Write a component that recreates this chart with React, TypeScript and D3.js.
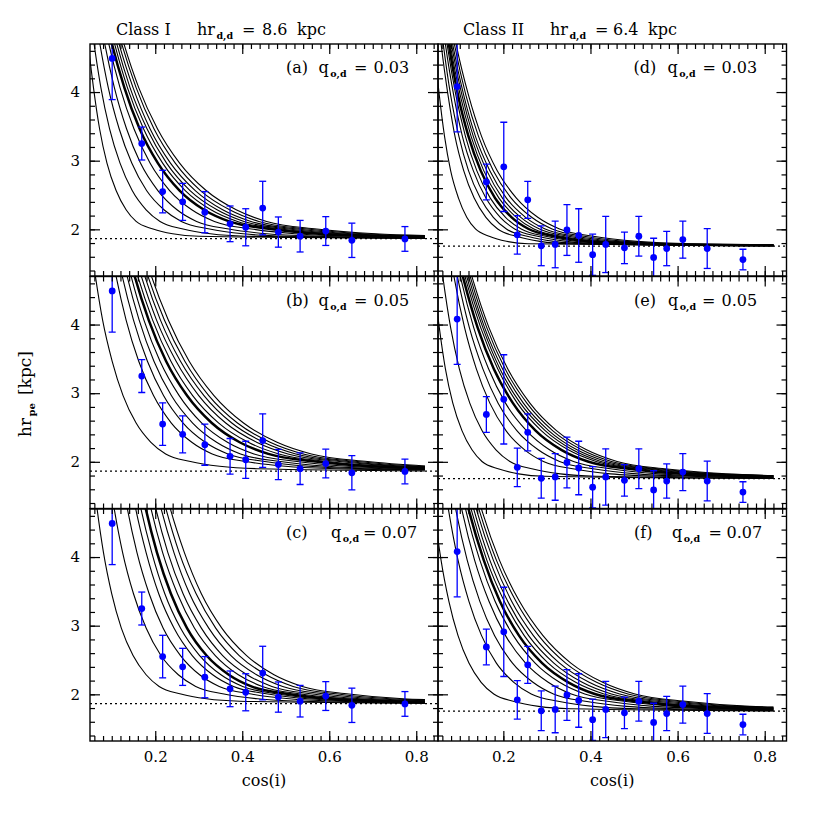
import * as d3 from 'd3';
import { useEffect, useRef } from 'react';

// ---- observed points (blue) ----
const cos1 = [0.101, 0.169, 0.217, 0.263, 0.314, 0.372, 0.408, 0.447, 0.483, 0.533, 0.592, 0.652, 0.774];
const hr1 = [4.49, 3.25, 2.55, 2.4, 2.25, 2.08, 2.03, 2.31, 1.96, 1.9, 1.975, 1.84, 1.86];
const err1 = [0.6, 0.24, 0.31, 0.27, 0.3, 0.26, 0.27, 0.39, 0.22, 0.23, 0.21, 0.25, 0.18];

const cos2 = [0.094, 0.161, 0.201, 0.232, 0.256, 0.287, 0.319, 0.346, 0.373, 0.405, 0.435, 0.478, 0.511, 0.545, 0.575, 0.612, 0.668, 0.75];
const hr2 = [4.08, 2.69, 2.91, 1.92, 2.43, 1.76, 1.78, 1.99, 1.91, 1.63, 1.78, 1.73, 1.9, 1.59, 1.72, 1.85, 1.72, 1.56];
const err2 = [0.66, 0.26, 0.65, 0.28, 0.27, 0.29, 0.34, 0.37, 0.39, 0.3, 0.41, 0.23, 0.29, 0.28, 0.25, 0.27, 0.29, 0.15];

// dotted line: intrinsic scale length
const hrDisk1 = 1.865;
const hrDisk2 = 1.755;

// model curves: hr levels, and for each curve the cos(i) where it crosses each level
const levels1 = [5.465, 4.765, 4.065, 3.465, 2.965, 2.565, 2.285, 2.115, 2.005, 1.935, 1.9];
const levels2 = [5.355, 4.655, 3.955, 3.355, 2.855, 2.455, 2.175, 2.005, 1.895, 1.825, 1.79];

const curvesA = [
  [0.035, 0.045, 0.058, 0.072, 0.089, 0.11, 0.133, 0.156, 0.195, 0.24, 0.3],
  [0.044, 0.058, 0.075, 0.095, 0.119, 0.147, 0.179, 0.211, 0.264, 0.327, 0.408],
  [0.054, 0.071, 0.092, 0.117, 0.146, 0.18, 0.22, 0.26, 0.325, 0.402, 0.502],
  [0.063, 0.082, 0.106, 0.134, 0.166, 0.206, 0.25, 0.295, 0.369, 0.456, 0.569],
  [0.069, 0.091, 0.119, 0.151, 0.188, 0.233, 0.284, 0.336, 0.421, 0.521, 0.651],
  [0.074, 0.098, 0.129, 0.164, 0.206, 0.256, 0.312, 0.37, 0.465, 0.576, 0.72],
  [0.078, 0.104, 0.136, 0.173, 0.217, 0.269, 0.328, 0.389, 0.488, 0.604, 0.755],
  [0.083, 0.109, 0.142, 0.181, 0.226, 0.28, 0.342, 0.404, 0.507, 0.627, 0.784],
  [0.087, 0.114, 0.149, 0.188, 0.235, 0.292, 0.355, 0.42, 0.527, 0.652, 0.814],
  [0.091, 0.12, 0.156, 0.197, 0.246, 0.304, 0.371, 0.438, 0.549, 0.678],
  [0.095, 0.125, 0.162, 0.205, 0.256, 0.317, 0.386, 0.456, 0.571, 0.706],
];
const endsA = [1.867, 1.87, 1.873, 1.877, 1.883, 1.89, 1.893, 1.897, 1.9, 1.905, 1.91];

const curvesB = [
  [0.046, 0.061, 0.079, 0.101, 0.126, 0.156, 0.19, 0.224, 0.281, 0.348, 0.434],
  [0.088, 0.108, 0.133, 0.162, 0.196, 0.237, 0.284, 0.331, 0.408, 0.499, 0.617],
  [0.1, 0.122, 0.15, 0.182, 0.219, 0.264, 0.315, 0.367, 0.452, 0.552, 0.682],
  [0.109, 0.133, 0.163, 0.197, 0.237, 0.286, 0.341, 0.396, 0.488, 0.595, 0.735],
  [0.116, 0.142, 0.174, 0.211, 0.255, 0.307, 0.366, 0.427, 0.526, 0.642, 0.793],
  [0.122, 0.15, 0.185, 0.225, 0.273, 0.33, 0.394, 0.46, 0.568, 0.694],
  [0.128, 0.157, 0.194, 0.236, 0.286, 0.346, 0.414, 0.484, 0.597, 0.73],
  [0.134, 0.165, 0.203, 0.248, 0.3, 0.362, 0.433, 0.505, 0.623, 0.762],
  [0.142, 0.173, 0.212, 0.258, 0.312, 0.376, 0.449, 0.523, 0.644, 0.787],
  [0.148, 0.18, 0.221, 0.268, 0.323, 0.389, 0.464, 0.54, 0.665, 0.812],
  [0.155, 0.188, 0.23, 0.278, 0.335, 0.403, 0.48, 0.559, 0.688],
];
const endsB = [1.867, 1.88, 1.885, 1.89, 1.898, 1.907, 1.915, 1.923, 1.93, 1.933, 1.94];

const curvesC = [
  [0.052, 0.065, 0.081, 0.1, 0.122, 0.149, 0.179, 0.209, 0.259, 0.318, 0.394],
  [0.087, 0.104, 0.125, 0.15, 0.179, 0.213, 0.253, 0.293, 0.358, 0.435, 0.535],
  [0.115, 0.134, 0.158, 0.186, 0.218, 0.258, 0.302, 0.347, 0.421, 0.508, 0.621],
  [0.133, 0.153, 0.179, 0.208, 0.243, 0.285, 0.332, 0.38, 0.459, 0.551, 0.672],
  [0.144, 0.165, 0.192, 0.222, 0.258, 0.302, 0.351, 0.401, 0.482, 0.579, 0.704],
  [0.154, 0.176, 0.204, 0.236, 0.273, 0.318, 0.369, 0.421, 0.506, 0.606, 0.736],
  [0.165, 0.188, 0.217, 0.251, 0.29, 0.338, 0.391, 0.446, 0.535, 0.641, 0.778],
  [0.175, 0.199, 0.229, 0.264, 0.306, 0.355, 0.411, 0.468, 0.562, 0.672, 0.814],
  [0.186, 0.211, 0.243, 0.279, 0.323, 0.374, 0.433, 0.493, 0.59, 0.705],
  [0.195, 0.222, 0.255, 0.294, 0.339, 0.393, 0.455, 0.517, 0.62, 0.74],
  [0.205, 0.232, 0.267, 0.306, 0.353, 0.41, 0.473, 0.538, 0.645, 0.77],
];
const endsC = [1.867, 1.875, 1.88, 1.885, 1.887, 1.892, 1.895, 1.9, 1.907, 1.915, 1.923];

const curvesD = [
  [0.034, 0.042, 0.053, 0.065, 0.079, 0.097, 0.116, 0.136, 0.169, 0.207, 0.257],
  [0.046, 0.058, 0.073, 0.089, 0.109, 0.133, 0.16, 0.187, 0.232, 0.284, 0.353],
  [0.05, 0.063, 0.079, 0.098, 0.12, 0.147, 0.177, 0.207, 0.257, 0.316, 0.392],
  [0.054, 0.068, 0.086, 0.106, 0.131, 0.16, 0.193, 0.226, 0.281, 0.345, 0.429],
  [0.057, 0.072, 0.091, 0.113, 0.139, 0.17, 0.205, 0.241, 0.3, 0.369, 0.458],
  [0.06, 0.076, 0.096, 0.12, 0.148, 0.181, 0.219, 0.258, 0.32, 0.395, 0.491],
  [0.062, 0.079, 0.101, 0.126, 0.155, 0.19, 0.23, 0.27, 0.337, 0.415, 0.517],
  [0.064, 0.082, 0.105, 0.131, 0.162, 0.198, 0.24, 0.283, 0.353, 0.435, 0.541],
  [0.066, 0.085, 0.109, 0.136, 0.169, 0.207, 0.251, 0.296, 0.37, 0.456, 0.568],
  [0.069, 0.089, 0.114, 0.143, 0.177, 0.218, 0.265, 0.312, 0.389, 0.48, 0.598],
  [0.072, 0.093, 0.12, 0.15, 0.186, 0.23, 0.279, 0.329, 0.41, 0.507, 0.632],
];
const endsD = [1.757, 1.76, 1.762, 1.763, 1.765, 1.767, 1.768, 1.77, 1.772, 1.775, 1.778];

const curvesE = [
  [0.03, 0.04, 0.053, 0.067, 0.084, 0.105, 0.128, 0.151, 0.19, 0.235, 0.295],
  [0.048, 0.062, 0.079, 0.099, 0.123, 0.151, 0.183, 0.215, 0.268, 0.331, 0.412],
  [0.07, 0.088, 0.111, 0.138, 0.169, 0.206, 0.249, 0.292, 0.363, 0.446, 0.555],
  [0.075, 0.096, 0.122, 0.153, 0.188, 0.231, 0.28, 0.329, 0.41, 0.506, 0.629],
  [0.08, 0.103, 0.132, 0.166, 0.205, 0.253, 0.306, 0.361, 0.45, 0.556, 0.693],
  [0.083, 0.109, 0.141, 0.178, 0.222, 0.274, 0.333, 0.394, 0.493, 0.609, 0.76],
  [0.087, 0.114, 0.148, 0.187, 0.232, 0.287, 0.349, 0.413, 0.516, 0.638, 0.797],
  [0.091, 0.118, 0.153, 0.192, 0.239, 0.296, 0.359, 0.424, 0.531, 0.656, 0.818],
  [0.094, 0.122, 0.157, 0.198, 0.246, 0.304, 0.369, 0.436, 0.545, 0.673],
  [0.097, 0.126, 0.162, 0.204, 0.254, 0.313, 0.38, 0.448, 0.56, 0.692],
  [0.1, 0.13, 0.167, 0.21, 0.261, 0.322, 0.391, 0.461, 0.576, 0.711],
];
const endsE = [1.757, 1.76, 1.767, 1.772, 1.777, 1.783, 1.788, 1.79, 1.793, 1.797, 1.8];

const curvesF = [
  [0.03, 0.042, 0.057, 0.075, 0.096, 0.121, 0.149, 0.178, 0.225, 0.281, 0.353],
  [0.058, 0.075, 0.096, 0.121, 0.15, 0.184, 0.224, 0.264, 0.329, 0.406, 0.506],
  [0.072, 0.092, 0.117, 0.146, 0.18, 0.221, 0.268, 0.315, 0.392, 0.483, 0.601],
  [0.084, 0.106, 0.134, 0.167, 0.205, 0.251, 0.303, 0.356, 0.443, 0.545, 0.677],
  [0.091, 0.115, 0.146, 0.181, 0.223, 0.273, 0.329, 0.387, 0.482, 0.593, 0.737],
  [0.096, 0.122, 0.155, 0.192, 0.236, 0.289, 0.349, 0.41, 0.51, 0.628, 0.781],
  [0.101, 0.128, 0.162, 0.202, 0.248, 0.303, 0.366, 0.431, 0.535, 0.659, 0.819],
  [0.106, 0.134, 0.169, 0.21, 0.258, 0.316, 0.381, 0.448, 0.557, 0.685],
  [0.111, 0.14, 0.177, 0.219, 0.269, 0.329, 0.397, 0.467, 0.58, 0.713],
  [0.115, 0.146, 0.184, 0.229, 0.281, 0.343, 0.414, 0.486, 0.604, 0.743],
  [0.121, 0.152, 0.191, 0.237, 0.291, 0.355, 0.428, 0.502, 0.624, 0.766],
];
const endsF = [1.757, 1.762, 1.767, 1.772, 1.778, 1.785, 1.79, 1.795, 1.8, 1.81, 1.815];

const xMajor = [0.2, 0.4, 0.6, 0.8];
const yMajor = [2, 3, 4];
const THICK = 5;
const CURVE_END = 0.82;

const FONT = '"DejaVu Serif", serif';
const BLUE = '#0000ff';

const colX = [[90, 438], [438, 786.5]];
const rowTop = [44, 276.5, 509];
const PH = 232;

const panels = [
  { col: 0, row: 0, tag: '(a)', q: '0.03', curves: curvesA, ends: endsA, off: [196, 228.5, 264, 283.5] },
  { col: 0, row: 1, tag: '(b)', q: '0.05', curves: curvesB, ends: endsB, off: [196, 228.5, 264, 283.5] },
  { col: 0, row: 2, tag: '(c)', q: '0.07', curves: curvesC, ends: endsC, off: [196, 241, 273, 291.5] },
  { col: 1, row: 0, tag: '(d)', q: '0.03', curves: curvesD, ends: endsD, off: [195.5, 229.5, 264.5, 283.5] },
  { col: 1, row: 1, tag: '(e)', q: '0.05', curves: curvesE, ends: endsE, off: [196, 230, 264, 283.5] },
  { col: 1, row: 2, tag: '(f)', q: '0.07', curves: curvesF, ends: endsF, off: [196, 234, 270.5, 288.5] },
];

export default function App() {
  const ref = useRef<SVGSVGElement>(null);

  useEffect(() => {
    const svg = d3.select(ref.current);
    svg.selectAll('*').remove();
    const defs = svg.append('defs');

    const txt = (x: number, y: number, s: string, size = 16) =>
      svg.append('text').attr('x', x).attr('y', y).attr('font-family', FONT)
        .attr('font-size', size).attr('fill', '#000').text(s);

    const sub = (sel: any, s: string) =>
      sel.append('tspan').attr('dx', 1.5).attr('dy', 4).attr('font-size', 9.5)
        .attr('font-weight', 'bold').text(s);

    panels.forEach((p, i) => {
      const [x0, x1] = colX[p.col];
      const top = rowTop[p.row];
      const bottom = top + PH;
      const x = d3.scaleLinear().domain([0.05, 0.85]).range([x0, x1]);
      const y = d3.scaleLinear().domain([1.32, 4.7]).range([bottom, top]);
      const levels = p.col === 0 ? levels1 : levels2;
      const asym = p.col === 0 ? hrDisk1 : hrDisk2;
      const cs = p.col === 0 ? cos1 : cos2;
      const hs = p.col === 0 ? hr1 : hr2;
      const es = p.col === 0 ? err1 : err2;

      defs.append('clipPath').attr('id', `clip${i}`).append('rect')
        .attr('x', x0).attr('y', top).attr('width', x1 - x0).attr('height', PH);

      const g = svg.append('g');
      const plot = g.append('g').attr('clip-path', `url(#clip${i})`);

      plot.append('line')
        .attr('x1', x0).attr('x2', x1).attr('y1', y(asym)).attr('y2', y(asym))
        .attr('stroke', '#000').attr('stroke-width', 1.2).attr('stroke-dasharray', '2,3');

      const line = d3.line<number[]>().x(d => x(d[0])).y(d => y(d[1])).curve(d3.curveMonotoneX);
      p.curves.forEach((xs, j) => {
        const pts = xs.map((c, k) => [c, levels[k]]);
        pts.push([CURVE_END, p.ends[j]]);
        plot.append('path').attr('d', line(pts)).attr('fill', 'none')
          .attr('stroke', '#000').attr('stroke-width', j === THICK ? 2.5 : 1.1);
      });

      cs.forEach((c, k) => {
        const cx = x(c);
        const yl = y(hs[k] - es[k]);
        const yh = y(hs[k] + es[k]);
        plot.append('line').attr('x1', cx).attr('x2', cx).attr('y1', yl).attr('y2', yh)
          .attr('stroke', BLUE).attr('stroke-width', 1.3);
        [yl, yh].forEach(yy => plot.append('line').attr('x1', cx - 3.5).attr('x2', cx + 3.5)
          .attr('y1', yy).attr('y2', yy).attr('stroke', BLUE).attr('stroke-width', 1.3));
        plot.append('circle').attr('cx', cx).attr('cy', y(hs[k])).attr('r', 3.4).attr('fill', BLUE);
      });

      // inward ticks on all four sides
      const xMinor = d3.range(3, 43).map(n => n * 0.02);
      const yMinor = d3.range(7, 24).map(n => n * 0.2);
      const ax = (axis: any, tr: string) => {
        const a = g.append('g').attr('transform', tr).call(axis);
        a.select('.domain').remove();
        a.selectAll('line').attr('stroke-width', 1.2);
        return a;
      };
      ax(d3.axisBottom(x).tickValues(xMinor).tickSize(-5).tickFormat(() => ''), `translate(0,${bottom})`);
      ax(d3.axisTop(x).tickValues(xMinor).tickSize(-5).tickFormat(() => ''), `translate(0,${top})`);
      ax(d3.axisTop(x).tickValues(xMajor).tickSize(-10).tickFormat(() => ''), `translate(0,${top})`);
      const xb = ax(d3.axisBottom(x).tickValues(xMajor).tickSize(-10).tickPadding(10)
        .tickFormat(p.row === 2 ? d3.format('.1f') : () => ''), `translate(0,${bottom})`);
      xb.selectAll('text').attr('font-family', FONT).attr('font-size', 15).attr('fill', '#000');

      ax(d3.axisRight(y).tickValues(yMinor).tickSize(-5).tickFormat(() => ''), `translate(${x1},0)`);
      ax(d3.axisRight(y).tickValues(yMajor).tickSize(-10).tickFormat(() => ''), `translate(${x1},0)`);
      ax(d3.axisLeft(y).tickValues(yMinor).tickSize(-5).tickFormat(() => ''), `translate(${x0},0)`);
      const yl = ax(d3.axisLeft(y).tickValues(yMajor).tickSize(-10).tickPadding(10)
        .tickFormat(p.col === 0 ? d3.format('d') : () => ''), `translate(${x0},0)`);
      yl.selectAll('text').attr('font-family', FONT).attr('font-size', 15).attr('fill', '#000');

      g.append('rect').attr('x', x0).attr('y', top).attr('width', x1 - x0).attr('height', PH)
        .attr('fill', 'none').attr('stroke', '#000').attr('stroke-width', 1.4);

      // panel label
      const ly = top + 29;
      txt(x0 + p.off[0], ly, p.tag);
      const qt = txt(x0 + p.off[1], ly, 'q');
      sub(qt, 'o,d');
      txt(x0 + p.off[2], ly, '=');
      txt(x0 + p.off[3], ly, p.q);

      if (p.row === 2) {
        txt((x0 + x1) / 2, 786, 'cos(i)').attr('text-anchor', 'middle');
      }
    });

    // column titles
    txt(116, 35, 'Class I');
    sub(txt(197, 35, 'hr'), 'd,d');
    txt(242, 35, '=');
    txt(262, 35, '8.6');
    txt(297, 35, 'kpc');

    txt(463, 35, 'Class II');
    sub(txt(550, 35, 'hr'), 'd,d');
    txt(595, 35, '=');
    txt(613, 35, '6.4');
    txt(648, 35, 'kpc');

    // y axis title
    const yt = svg.append('text').attr('transform', 'translate(31,394) rotate(-90)')
      .attr('text-anchor', 'middle').attr('font-family', FONT).attr('font-size', 17).text('hr');
    sub(yt, 'pe').attr('font-size', 10);
    yt.append('tspan').attr('dy', -4).attr('dx', 8).text('[kpc]');
  }, []);

  return (
    <svg ref={ref} width={830} height={830}
      style={{ position: 'absolute', left: 0, top: 0, background: '#fff' }} />
  );
}
